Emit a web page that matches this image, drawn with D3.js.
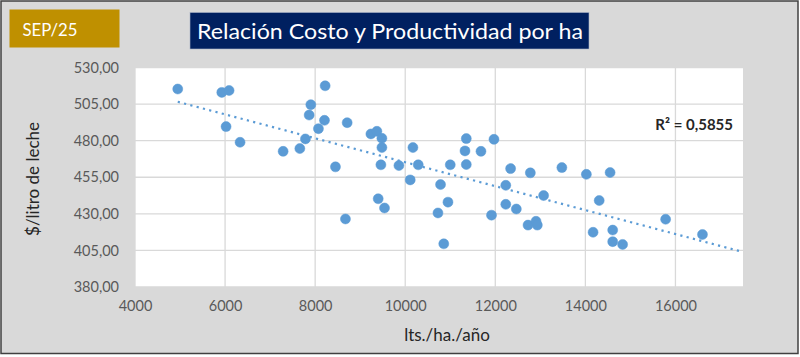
<!DOCTYPE html>
<html><head><meta charset="utf-8">
<script src="https://cdn.jsdelivr.net/npm/d3@7"></script>
<style>
html,body{margin:0;padding:0;background:#fff;}
svg{display:block;font-family:Lato,"Open Sans",sans-serif;}
</style></head>
<body>
<svg id="chart" width="800" height="357"></svg>
<script>
// ---- data ----
const productividad = [4949,5927,6089,6022,6333,7289,7660,7784,7867,7904,8222,8207,8073,8451,8673,8711,
  9238,9371,9482,9482,9460,9400,9540,9860,10171,10289,10111,10784,10949,10727,10856,11000,11356,11327,
  11356,11682,11971,11916,12340,12233,12233,12467,12778,13073,12727,12904,12933,13478,14022,14549,14307,
  14171,14607,14607,14827,15782,16600];
const costo = [515.3,513.0,514.3,489.6,478.9,472.7,474.6,481.2,497.5,504.6,517.5,493.9,488.2,462.1,426.5,492.3,
  484.6,486.4,481.6,475.3,463.5,440.3,434.0,463.0,475.3,463.5,453.2,450.0,438.0,430.6,409.5,463.5,481.4,473.0,
  463.7,472.7,480.9,429.1,460.9,449.5,436.5,433.3,458.0,442.5,422.3,424.9,422.3,461.6,457.0,458.2,439.1,
  417.4,418.9,411.0,409.1,426.3,415.9];
const xTicks = [4000,6000,8000,10000,12000,14000,16000];
const yTicks = [380,405,430,455,480,505,530];
const badge = "SEP/25";
const title = "Relación Costo y Productividad por ha";
const xTitle = "lts./ha./año";
const yTitle = "$/litro de leche";
const r2Label = "R² = 0,5855";

const svg = d3.select("#chart");
// background + border
svg.append("rect").attr("x",1).attr("y",1).attr("width",797).attr("height",352.5)
  .attr("fill","#d9d9d9").attr("stroke","#404040").attr("stroke-width",1.5);

const m = {l:135, t:67.5, r:743, b:287};
const x = d3.scaleLinear().domain([4000,17500]).range([m.l,m.r]);
const y = d3.scaleLinear().domain([380,530]).range([m.b,m.t]);

svg.append("rect").attr("x",m.l).attr("y",m.t).attr("width",m.r-m.l).attr("height",m.b-m.t)
  .attr("fill","#fff");

// gridlines
svg.append("g").selectAll("line").data(yTicks).join("line")
  .attr("x1",m.l).attr("x2",m.r).attr("y1",d=>y(d)).attr("y2",d=>y(d))
  .attr("stroke","#d9d9d9").attr("stroke-width",1.3);
svg.append("g").selectAll("line").data(xTicks).join("line")
  .attr("y1",m.t).attr("y2",m.b).attr("x1",d=>x(d)).attr("x2",d=>x(d))
  .attr("stroke","#d9d9d9").attr("stroke-width",1.3);

// axes (labels only)
const fmt = d => d3.format(".2f")(d).replace(".",",");
const yAxis = svg.append("g").attr("transform",`translate(${m.l},0)`)
  .call(d3.axisLeft(y).tickValues(yTicks).tickFormat(fmt).tickSize(0).tickPadding(16));
const xAxis = svg.append("g").attr("transform",`translate(0,${m.b})`)
  .call(d3.axisBottom(x).tickValues(xTicks).tickFormat(d3.format("d")).tickSize(0).tickPadding(14));
[yAxis,xAxis].forEach(a=>{
  a.select(".domain").remove();
  a.selectAll("text").attr("fill","#595959").style("font-size","14.5px").style("font-family","Lato,sans-serif");
});

// trendline (least squares)
const n = productividad.length;
const mx = d3.mean(productividad), my = d3.mean(costo);
let sxy=0,sxx=0;
for(let i=0;i<n;i++){sxy+=(productividad[i]-mx)*(costo[i]-my);sxx+=(productividad[i]-mx)**2;}
const slope = sxy/sxx, icpt = my - slope*mx;
const x0 = d3.min(productividad), x1 = x.domain()[1];
svg.append("line").attr("x1",x(x0)).attr("y1",y(icpt+slope*x0))
  .attr("x2",x(x1)).attr("y2",y(icpt+slope*x1))
  .attr("stroke","#5b9bd5").attr("stroke-width",2.2).attr("stroke-dasharray","2.2,4.3");

// points
svg.append("g").selectAll("circle").data(productividad.map((v,i)=>[v,costo[i]])).join("circle")
  .attr("cx",d=>x(d[0])).attr("cy",d=>y(d[1])).attr("r",5)
  .attr("fill","#5b9bd5").attr("stroke","#5b9bd5").attr("stroke-width",0.5);

// R2 label
svg.append("text").attr("x",733).attr("y",129.5).attr("text-anchor","end")
  .attr("fill","#262626").style("font-size","15px").style("font-weight","bold").text(r2Label);

// axis titles
svg.append("text").attr("x",447).attr("y",341).attr("text-anchor","middle")
  .attr("fill","#262626").style("font-size","17px").text(xTitle);
svg.append("text").attr("transform","translate(39,179) rotate(-90)").attr("text-anchor","middle")
  .attr("fill","#262626").style("font-size","17px").text(yTitle);

// badge
svg.append("rect").attr("x",9.5).attr("y",9.5).attr("width",110).attr("height",38)
  .attr("fill","#bf9000");
svg.append("text").attr("x",22.5).attr("y",35.5).attr("fill","#fff")
  .style("font-size","18px").attr("textLength",55).attr("lengthAdjust","spacingAndGlyphs").text(badge);

// title
svg.append("rect").attr("x",190).attr("y",12.5).attr("width",399).attr("height",36.5)
  .attr("fill","#002060").attr("stroke","#aab4c8").attr("stroke-width",0.6);
svg.append("text").attr("x",197).attr("y",39).attr("fill","#fff")
  .style("font-size","22px").attr("textLength",386).attr("lengthAdjust","spacingAndGlyphs").text(title);
</script>
</body></html>
